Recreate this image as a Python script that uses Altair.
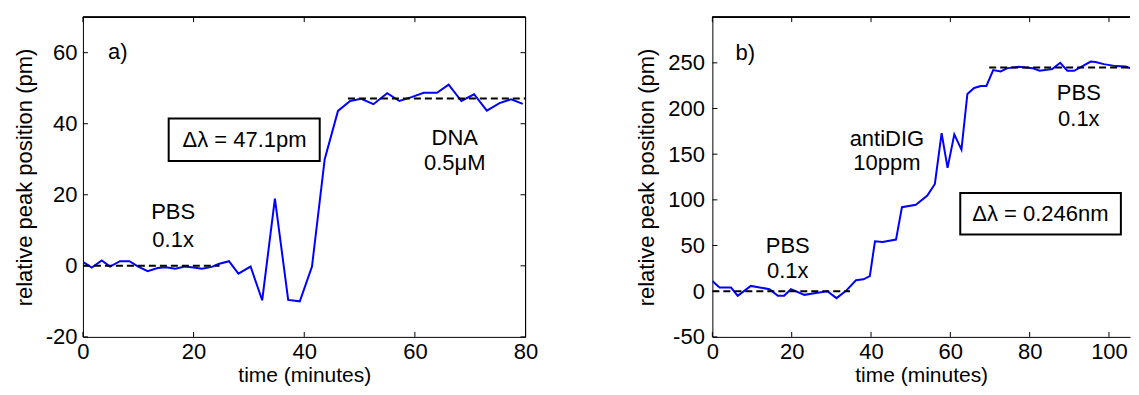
import altair as alt
import pandas as pd

# ---------------- data ----------------
# panel a
ta = [0, 1.6, 3.4, 4.9, 6.7, 8.4, 10.0, 11.7, 13.5, 15.0, 16.7, 18.4, 20.0, 21.5, 23.3, 24.5,
      26.4, 28.1, 30.3, 32.4, 34.7, 37.1, 39.2, 41.4, 43.7, 46.1, 48.3, 50.3, 52.5, 55.0,
      57.2, 59.4, 61.6, 64.0, 66.1, 68.4, 70.7, 73.0, 75.3, 77.4, 79.5]
ya = [1.1, -0.5, 1.5, -0.2, 1.3, 1.3, -0.2, -1.5, -0.6, -0.4, -0.8, -0.2, -0.5, -0.8, -0.3, 0.5,
      1.3, -2.2, -0.2, -9.7, 18.9, -9.6, -10.0, -0.2, 30.0, 43.6, 46.4, 47.0, 45.5, 48.6,
      46.4, 47.5, 48.7, 48.7, 51.0, 46.4, 48.3, 43.7, 45.8, 46.9, 45.6]
a_dash_t = [[0, 24.7], [47.9, 80]]
a_dash_y = [0, 47.1]
a_xticks = [0, 20, 40, 60, 80]
a_yticks = [-20, 0, 20, 40, 60]
a_labels = ["a)", "PBS", "0.1x", "DNA", "0.5μM", "Δλ = 47.1pm"]
a_label_t = [6.3, 16.3, 16.3, 67.2, 67.2, 29.2]
a_label_y = [60.1, 15.2, 7.4, 35.9, 28.9, 35.4]
a_box = [15.5, 42.8, 29.5, 41.5]

# panel b
tb = [0, 1.8, 4.7, 6.4, 9.7, 14.4, 16.5, 18.1, 19.8, 23.2, 25.7, 29.0, 31.3, 33.7, 36.2, 38.1,
      39.7, 41.0, 42.9, 46.3, 47.8, 51.3, 54.2, 56.1, 57.8, 59.3, 61.0, 62.8, 64.3, 66.0,
      67.7, 69.1, 70.8, 72.7, 74.4, 77.3, 80.7, 82.5, 85.7, 87.7, 89.5, 91.2, 95.4, 96.6,
      98.7, 101.7, 104.2, 106.7]
yb = [11.2, 4, 4, -5, 5.8, 2.2, -5, -5, 2.2, -4, -2.2, 0, -7.6, 0.4, 12, 13, 16.6, 54.7, 54,
      56.5, 92, 94.6, 104.7, 117.4, 173, 135, 171.7, 155, 216, 222.5, 224.7, 224.7, 242,
      240.5, 244.2, 245.6, 244.2, 241.3, 243.2, 250, 241.3, 241.3, 251.4, 251, 248.6, 246.4,
      246, 242]
b_dash_t = [[0, 34.7], [69.8, 107]]
b_dash_y = [0, 245]
b_xticks = [0, 20, 40, 60, 80, 100]
b_yticks = [-50, 0, 50, 100, 150, 200, 250]
b_labels = ["b)", "PBS", "0.1x", "antiDIG", "10ppm", "PBS", "0.1x", "Δλ = 0.246nm"]
b_label_t = [8.3, 19.0, 19.0, 44.0, 44.0, 92.4, 92.4, 82.7]
b_label_y = [261, 49, 21.7, 167, 140, 217, 189, 84.8]
b_box = [62.5, 103.0, 62.0, 107.6]

FONT = "Liberation Sans"
H = 320


def panel(t, y, dash_t, dash_y, xdom, ydom, xticks, yticks, labels, lt, ly, box, W,
          right_frame, ylabpad):
    xs = alt.Scale(domain=xdom, nice=False, zero=False)
    ys = alt.Scale(domain=ydom, nice=False, zero=False)
    xaxis = alt.Axis(values=xticks, ticks=False, tickSize=0, labelPadding=5, grid=False,
                     domain=True, domainColor="black", domainWidth=1,
                     titlePadding=2, titleFontSize=21, labelFlush=False,
                     labelExpr="'' + datum.value")
    yaxis = alt.Axis(values=yticks, ticks=False, tickSize=0, labelPadding=ylabpad, grid=False,
                     domain=True, domainColor="black", domainWidth=1,
                     titlePadding=9, labelFlush=False, labelExpr="'' + datum.value")

    def X(f):
        return alt.X(f, type="quantitative", scale=xs, axis=xaxis, title="time (minutes)")

    def Y(f):
        return alt.Y(f, type="quantitative", scale=ys, axis=yaxis,
                     title="relative peak position (pm)")

    df = pd.DataFrame({"t": t, "y": y})
    line = alt.Chart(df).mark_line(color="#0000ff", strokeWidth=2, clip=True).encode(
        x=X("t"), y=Y("y"))

    drows = []
    for i, (seg, yy) in enumerate(zip(dash_t, dash_y)):
        for tt in seg:
            drows.append({"t": tt, "y": yy, "g": i})
    dash = alt.Chart(pd.DataFrame(drows)).mark_line(
        color="black", strokeWidth=2, strokeDash=[7, 4], clip=True).encode(
        x=X("t"), y=Y("y"), detail="g:N")

    bdf = pd.DataFrame({"t0": [box[0]], "t1": [box[1]], "y0": [box[2]], "y1": [box[3]]})
    rect = alt.Chart(bdf).mark_rect(fill="white", stroke="black", strokeWidth=2).encode(
        x=X("t0"), x2="t1", y=Y("y0"), y2="y1")

    tdf = pd.DataFrame({"t": lt, "y": ly, "lab": labels})
    text = alt.Chart(tdf).mark_text(font=FONT, fontSize=22, color="black",
                                    align="center", baseline="middle").encode(
        x=X("t"), y=Y("y"), text="lab:N")

    xt = pd.DataFrame({"t": xticks})
    yt = pd.DataFrame({"y": yticks})
    tick_b = alt.Chart(xt).mark_rule(color="black", strokeWidth=1).encode(
        x=X("t"), y=alt.value(H), y2=alt.value(H - 5))
    tick_t = alt.Chart(xt).mark_rule(color="black", strokeWidth=1).encode(
        x=X("t"), y=alt.value(0), y2=alt.value(5))
    tick_l = alt.Chart(yt).mark_rule(color="black", strokeWidth=1).encode(
        y=Y("y"), x=alt.value(0), x2=alt.value(5))
    top = alt.Chart(xt).mark_rule(color="black", strokeWidth=1).encode(
        x=alt.value(0), x2=alt.value(W), y=alt.value(0))
    layers = [line, dash, rect, text, tick_b, tick_t, tick_l, top]
    if right_frame:
        tick_r = alt.Chart(yt).mark_rule(color="black", strokeWidth=1).encode(
            y=Y("y"), x=alt.value(W - 5), x2=alt.value(W))
        right = alt.Chart(xt).mark_rule(color="black", strokeWidth=1).encode(
            x=alt.value(W), y=alt.value(0), y2=alt.value(H))
        layers += [tick_r, right]
    return alt.layer(*layers).properties(width=W, height=H)


pa = panel(ta, ya, a_dash_t, a_dash_y, [0, 80], [-20, 70], a_xticks, a_yticks,
           a_labels, a_label_t, a_label_y, a_box, 443, True, 6)
pb = panel(tb, yb, b_dash_t, b_dash_y, [0, 105.3], [-50, 300], b_xticks, b_yticks,
           b_labels, b_label_t, b_label_y, b_box, 418, False, 8)

chart = alt.hconcat(pa, pb, spacing=97).properties(
    padding={"left": 5, "top": 8, "right": 0, "bottom": 0},
    background="white",
).configure_view(stroke=None).configure_axis(
    labelFont=FONT, labelFontSize=22, labelColor="black",
    titleFont=FONT, titleFontSize=22, titleFontWeight="normal", titleColor="black",
)

chart.save("out.html", embed_options={"renderer": "svg", "actions": False})
